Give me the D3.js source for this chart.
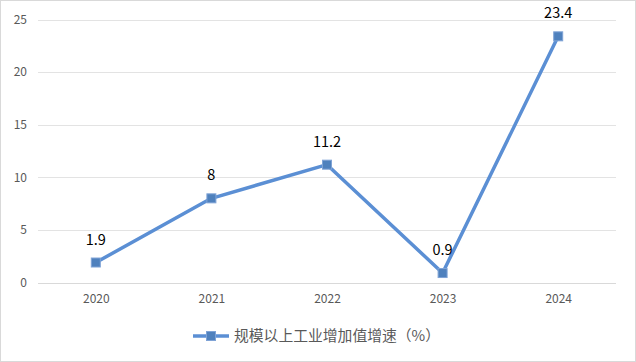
<!DOCTYPE html>
<html><head><meta charset="utf-8">
<script src="https://cdn.jsdelivr.net/npm/d3@7/dist/d3.min.js"></script>
<style>body{margin:0;background:#fff}svg{display:block}</style>
</head><body>
<svg id="c" width="636" height="362"></svg>
<script>
const categories = ["2020","2021","2022","2023","2024"];
const values = [1.9, 8, 11.2, 0.9, 23.4];
const labels = ["1.9","8","11.2","0.9","23.4"];
const yTicks = [0,5,10,15,20,25];
const seriesName = "规模以上工业增加值增速（%）";

(function(){
const svg = d3.select("#c");
const font = "'Microsoft YaHei','Noto Sans CJK SC','DejaVu Sans',sans-serif";
svg.append("rect").attr("x",0.5).attr("y",0.5).attr("width",635).attr("height",361)
  .attr("fill","#fff").attr("stroke","#d9d9d9");

const pl = 38, pr = 616, pt = 19.5, pb = 282.5;
const x = d3.scalePoint().domain(categories).range([pl, pr]).padding(0.5);
const y = d3.scaleLinear().domain([0,25]).range([pb, pt]);

const g = svg.append("g");
g.selectAll("line.grid").data(yTicks).join("line")
  .attr("x1",pl).attr("x2",pr)
  .attr("y1",d=>Math.round(y(d))+0.5).attr("y2",d=>Math.round(y(d))+0.5)
  .attr("stroke",d=>d===0?"#d9d9d9":"#e3e3e3").attr("stroke-width",1);

const yAxis = d3.axisLeft(y).tickValues(yTicks).tickSize(0).tickPadding(0);
const ya = svg.append("g").attr("transform",`translate(${27},0)`).call(yAxis);
ya.select(".domain").remove();
ya.selectAll("text").attr("fill","#595959").style("font-size","12px").style("font-family",font);

const xAxis = d3.axisBottom(x).tickSize(0).tickPadding(0);
const xa = svg.append("g").attr("transform",`translate(0,${294})`).call(xAxis);
xa.select(".domain").remove();
xa.selectAll("text").attr("fill","#595959").style("font-size","12px").style("font-family",font);

const color = "#4f81bd";
const line = d3.line().x((d,i)=>x(categories[i])).y(d=>y(d));
svg.append("path").datum(values).attr("d",line).attr("fill","none")
  .attr("stroke","#5b8fd4").attr("stroke-width",3.5).attr("stroke-linejoin","round");

svg.selectAll("rect.m").data(values).join("rect")
  .attr("x",(d,i)=>x(categories[i])-4.5).attr("y",d=>y(d)-4.5)
  .attr("width",9).attr("height",9).attr("fill",color).attr("stroke","#7fa3d6").attr("stroke-width",1);

svg.selectAll("text.lbl").data(values).join("text")
  .attr("x",(d,i)=>x(categories[i])).attr("y",d=>y(d)-18)
  .attr("text-anchor","middle").attr("fill","#000").style("font-size","14.5px").style("font-family",font)
  .text((d,i)=>labels[i]);

const lg = svg.append("g").attr("transform","translate(193,336)");
lg.append("line").attr("x1",0).attr("x2",36).attr("y1",0).attr("y2",0)
  .attr("stroke","#5b8fd4").attr("stroke-width",3.5);
lg.append("rect").attr("x",13.5).attr("y",-4.5).attr("width",9).attr("height",9)
  .attr("fill",color).attr("stroke","#7fa3d6");
lg.append("text").attr("x",41).attr("y",5).attr("fill","#595959")
  .style("font-size","14.8px").style("font-family",font).text(seriesName);
})();
</script>
</body></html>
